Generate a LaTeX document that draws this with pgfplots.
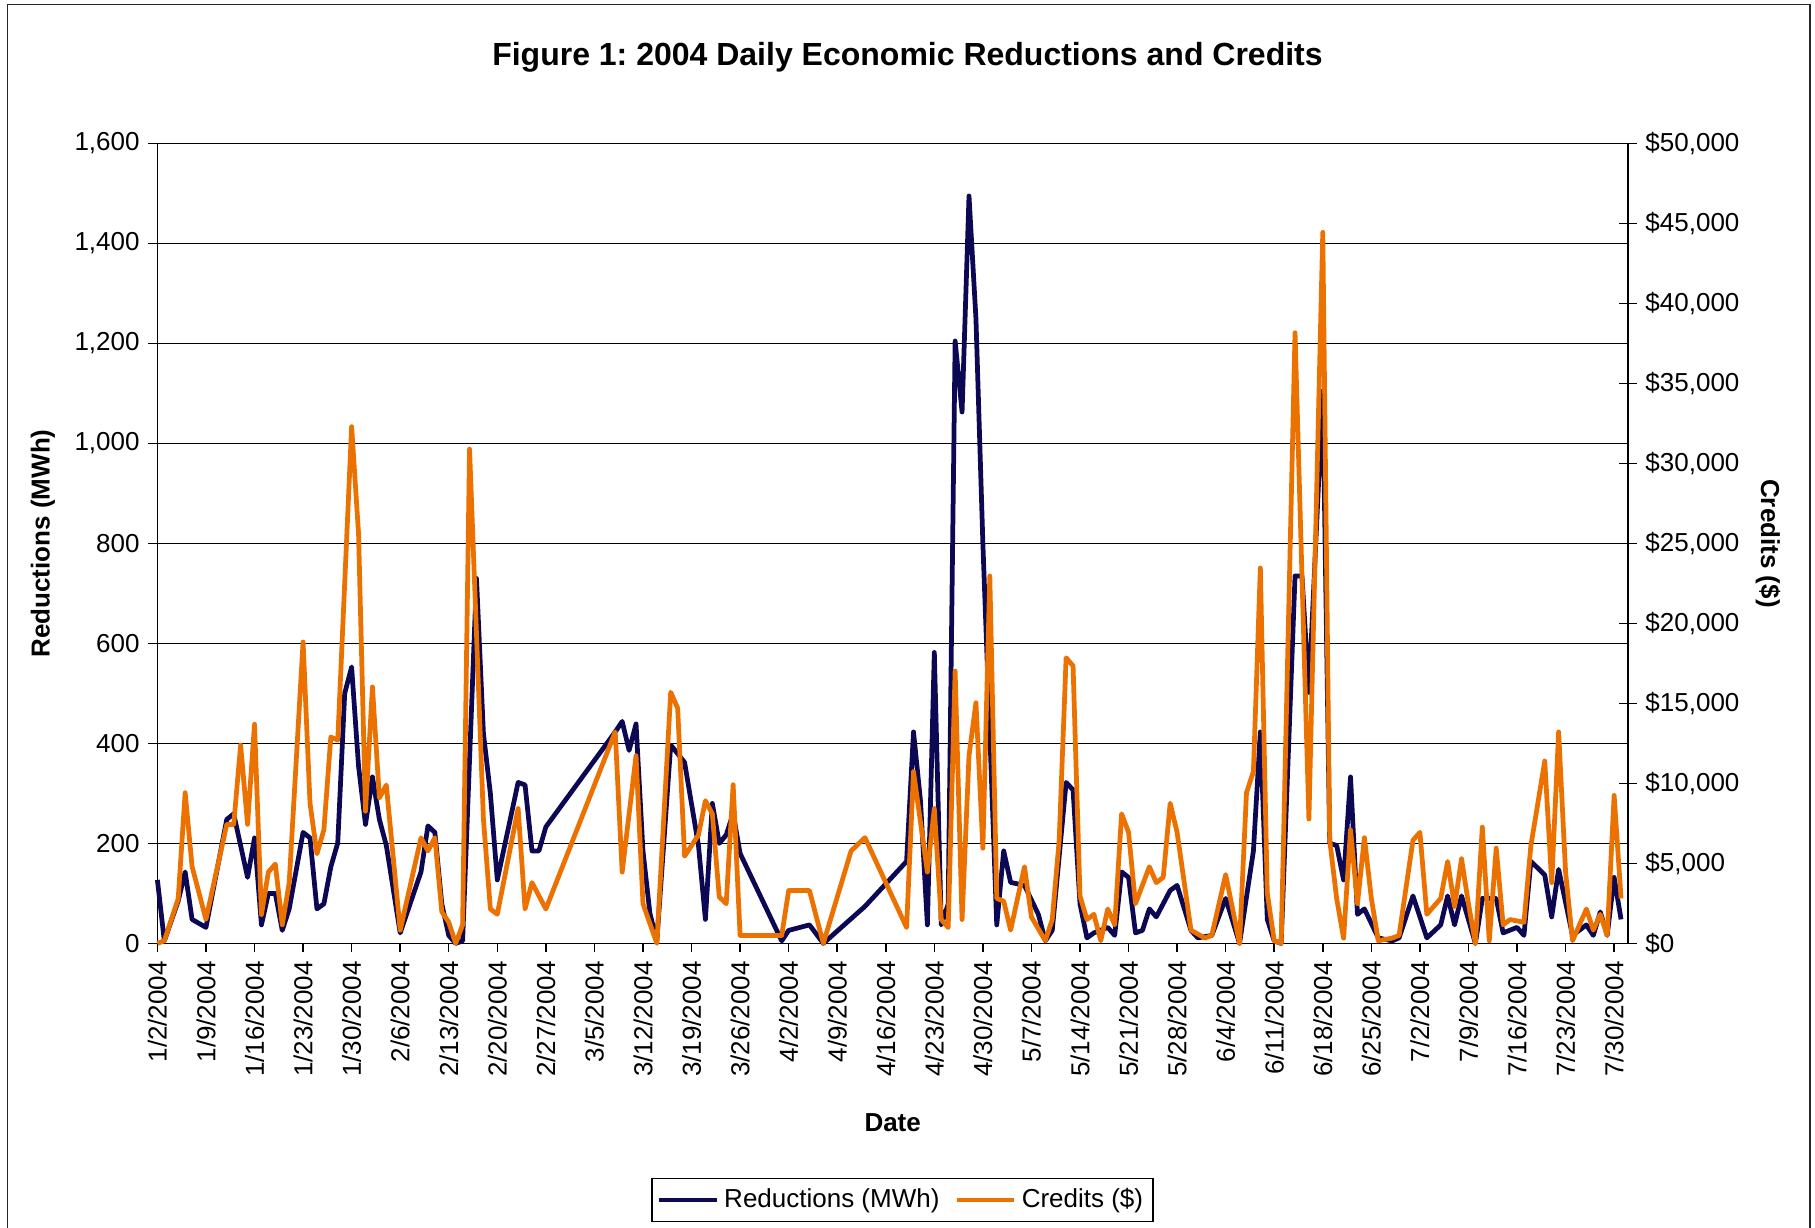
\documentclass[border=0pt]{standalone}
\usepackage{pgfplots}
\usepackage{pgfplotstable}
\pgfplotsset{compat=1.18}
\usepackage{fontspec}
\setmainfont{Liberation Sans}
\frenchspacing
\definecolor{navy}{RGB}{12,8,84}
\definecolor{orng}{RGB}{235,113,0}

\pgfplotstableread{
d v
0 127
1 5
3 85
4 143
5 48
7 32
10 248
11 259
13 132
14 211
15 37
16 100
17 100
18 26
19 69
21 222
22 211
23 69
24 79
25 153
26 201
27 500
28 553
29 354
30 238
31 333
32 248
33 196
35 21
38 143
39 235
40 222
41 79
42 16
43 0
44 5
46 730
47 420
48 300
49 127
52 322
53 317
54 185
55 185
56 233
66 423
67 444
68 386
69 439
70 185
71 60
72 5
74 397
76 362
78 196
79 48
80 280
81 200
82 217
83 260
84 180
90 5
91 26
94 37
96 0
102 74
108 164
109 423
110 286
111 37
112 582
113 37
114 79
115 1205
116 1063
117 1495
118 1250
119 800
120 420
121 37
122 185
123 122
125 116
127 58
128 5
129 26
131 322
132 307
133 79
134 11
135 21
137 32
138 16
139 143
140 132
141 21
142 26
143 69
144 53
146 106
147 116
149 26
150 11
152 16
154 90
156 0
158 185
159 423
160 48
161 5
162 0
164 735
165 735
166 502
168 1105
169 200
170 196
171 127
172 333
173 58
174 69
176 11
178 5
179 11
181 95
183 11
185 37
186 95
187 37
188 95
190 0
191 90
193 90
194 21
196 32
197 16
198 164
200 137
201 53
202 148
204 16
206 37
207 16
208 63
209 16
210 132
211 48
}\redtab

\pgfplotstableread{
d v
0 0
1 165
3 2800
4 9420
5 4800
7 1500
10 7440
11 7440
12 12400
13 7440
14 13700
15 1800
16 4460
17 4960
18 1160
19 3800
21 18840
22 8760
23 5600
24 7100
25 12900
26 12700
28 32300
29 25600
30 8260
31 16030
32 9090
33 9900
35 830
38 6600
39 5780
40 6610
41 1980
42 1320
43 0
44 1160
45 30900
47 7770
48 2150
49 1820
52 8430
53 2150
54 3800
56 2150
66 13220
67 4460
69 11730
70 2480
72 0
74 15700
75 14700
76 5450
78 6780
79 8920
80 8100
81 2900
82 2480
83 9920
84 500
90 500
91 3300
94 3300
96 0
100 5780
102 6610
108 990
109 10740
111 4460
112 8430
113 1490
114 990
115 17020
116 1490
117 11730
118 15040
119 5950
120 22970
121 2810
122 2640
123 830
125 4790
126 1650
128 165
129 1490
130 6450
131 17850
132 17350
133 2975
134 1490
135 1820
136 165
137 2150
138 1160
139 8100
140 6940
141 2480
143 4790
144 3800
145 4130
146 8760
147 6940
149 830
151 330
152 500
154 4300
156 0
157 9420
158 10740
159 23470
160 3140
161 165
162 0
164 38170
166 7770
168 44450
169 6450
170 2810
171 330
172 7100
173 2480
174 6610
175 2810
176 165
178 330
179 500
181 6450
182 6940
183 1820
185 2810
186 5120
187 2310
188 5290
189 2480
190 0
191 7270
192 165
193 5950
194 1160
195 1490
197 1320
198 6110
200 11400
201 3800
202 13220
203 4460
204 165
206 2150
207 830
208 1820
209 500
210 9250
211 2810
}\credtab

\begin{document}
\begin{tikzpicture}
\begin{axis}[
  at={(62.96pt,-377.36pt)}, anchor=south west,
  scale only axis, width=588.24pt, height=319.96pt,
  xmin=0, xmax=212, ymin=0, ymax=1600,
  xtick={0,7,...,210},
  xticklabels={1/2/2004,1/9/2004,1/16/2004,1/23/2004,1/30/2004,2/6/2004,2/13/2004,2/20/2004,2/27/2004,3/5/2004,3/12/2004,3/19/2004,3/26/2004,4/2/2004,4/9/2004,4/16/2004,4/23/2004,4/30/2004,5/7/2004,5/14/2004,5/21/2004,5/28/2004,6/4/2004,6/11/2004,6/18/2004,6/25/2004,7/2/2004,7/9/2004,7/16/2004,7/23/2004,7/30/2004},
  ytick={0,200,...,1600},
  tick pos=left, tick align=outside,
  major tick length=3.6pt,
  ymajorgrids, major grid style={black, line width=0.55pt},
  axis line style={black, line width=0.6pt},
  every tick/.style={black, line width=0.6pt},
  tick label style={font=\fontsize{10.4}{12}\selectfont, black},
  xticklabel style={rotate=90, anchor=east},
  /pgf/number format/1000 sep={,},
  /pgf/number format/assume math mode=true,
  clip=false,
]
\addplot[navy, line width=1.9pt, line join=round] table[x=d,y=v]{\redtab};
\end{axis}
\begin{axis}[
  at={(62.96pt,-377.36pt)}, anchor=south west,
  scale only axis, width=588.24pt, height=319.96pt,
  xmin=0, xmax=212, ymin=0, ymax=50000,
  axis x line=none, axis y line*=right,
  ytick={0,5000,...,50000},
  tick align=center, major tick length=6.9pt,
  scaled y ticks=false,
  axis line style={black, line width=0.6pt},
  every tick/.style={black, line width=0.6pt},
  tick label style={font=\fontsize{10.4}{12}\selectfont, black},
  /pgf/number format/1000 sep={,},
  /pgf/number format/fixed,
  /pgf/number format/precision=0,
  /pgf/number format/assume math mode=true,
  yticklabel={\$\pgfmathprintnumber{\tick}},
  clip=false,
  legend style={at={(0.5067,-0.3208)}, anchor=center, legend columns=2,
    draw=black, line width=0.6pt, font=\fontsize{10.4}{12}\selectfont,
    inner xsep=2pt, inner ysep=2pt,
    /tikz/every even column/.append style={column sep=4pt}},
  legend image code/.code={\draw[#1] (0pt,0pt) -- (23pt,0pt);},
]
\addlegendimage{navy, line width=1.9pt}
\addlegendentry{Reductions (MWh)}
\addplot[orng, line width=1.9pt, line join=round] table[x=d,y=v]{\credtab};
\addlegendentry{Credits (\$)}
\end{axis}
\begin{scope}[x=0.4pt, y=-0.4pt]
\node[font=\bfseries\fontsize{12.8}{15}\selectfont, anchor=base, inner sep=0pt] at (907.5,66) {Figure 1: 2004 Daily Economic Reductions and Credits};
\node[font=\bfseries\fontsize{10.4}{12}\selectfont, rotate=90, inner sep=0pt] at (43,543.5) {Reductions (MWh)};
\node[font=\bfseries\fontsize{10.4}{12}\selectfont, rotate=-90, inner sep=0pt] at (1768,543.5) {Credits (\$)};
\node[font=\bfseries\fontsize{10.4}{12}\selectfont, anchor=base, inner sep=0pt] at (892.7,1132) {Date};
\draw[line width=0.6pt, black!85] (7.3,1240) -- (7.3,4.3) -- (1810,4.3) -- (1810,1240);
\end{scope}
\pgfresetboundingbox
\useasboundingbox (0pt,0pt) rectangle (726pt,-491.2pt);
\end{tikzpicture}
\end{document}
